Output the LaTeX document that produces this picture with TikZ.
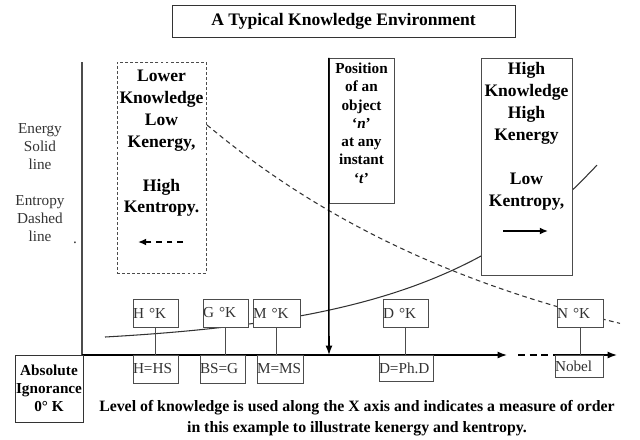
\documentclass[tikz,border=0pt]{standalone}
\usepackage{fontspec}
\setmainfont{Liberation Serif}
\usetikzlibrary{positioning,arrows.meta}

\begin{document}
\begin{tikzpicture}[x=0.03cm, y=-0.03cm,
  box/.style={draw=black!70, fill=white, inner sep=0pt},
  bigtext/.style={inner sep=0pt, align=center, font=\bfseries\fontsize{15}{18.7}\selectfont},
  smallbox/.style={box, text=black!80, align=left, inner xsep=0pt, font=\fontsize{13}{15}\selectfont},
  sidetext/.style={inner sep=0pt, align=center, text=black!80, font=\fontsize{13}{15.3}\selectfont},
  axisline/.style={line width=1.3pt},
  arrowed/.style={-{Latex[length=8pt,width=6pt]}},
  curveline/.style={black!80, line width=0.9pt}]
 \useasboundingbox (0,0) rectangle (640,439);

 %Coordinates
 \coordinate (origin) at (82,355);
 \coordinate (yTop) at (82,62);
 \coordinate (axisEnd) at (507,355);
 \coordinate (dashStart) at (518,355);
 \coordinate (dashEnd) at (556,355);
 \coordinate (axisTip) at (617,355);
 \coordinate (posTip) at (329,355);
 \coordinate (lowArrowStart) at (183,242);
 \coordinate (lowArrowEnd) at (138,242);
 \coordinate (highArrowStart) at (503,231);
 \coordinate (highArrowEnd) at (548,231);

 %Functions
 \draw[curveline, domain=105:597, smooth, variable=\x] plot ({\x}, {346.5-9.49*exp(0.006*(\x-105))});
 \draw[curveline, dash pattern=on 4pt off 3pt, domain=207:620, smooth, variable=\x] plot ({\x}, {404-279*exp(-0.003*(\x-207))});

 %Axis
 \draw[black!70, line width=1pt] (yTop) -- (origin);
 \draw[axisline, arrowed] (origin) -- (axisEnd);
 \draw[axisline, dash pattern=on 6pt off 4pt] (dashStart) -- (dashEnd);
 \draw[axisline, arrowed] (dashEnd) -- (axisTip);

 %Names
 \node (title) [box, draw=black!80, minimum width=10.29cm, minimum height=0.96cm, font=\bfseries\fontsize{15}{18}\selectfont] at (343.5,21) {A Typical Knowledge Environment};

 \node (lowBox) [box, dash pattern=on 2.5pt off 1.8pt, minimum width=2.67cm, minimum height=6.33cm] at (161.5,167.5) {};
 \node (lowText) [bigtext, below=0.24cm of lowBox.north] {Lower\\Knowledge\\Low\\Kenergy,\\[18.7pt]High\\Kentropy.};

 \node (highBox) [box, minimum width=2.73cm, minimum height=6.51cm] at (526.5,166.5) {};
 \node (highText) [bigtext, below=0.14cm of highBox.north] {High\\Knowledge\\High\\Kenergy\\[18.7pt]Low\\Kentropy,};

 \node (posBox) [box, minimum width=1.95cm, minimum height=4.35cm] at (361.5,130.5) {};
 \node (posText) [inner sep=0pt, align=center, font=\bfseries\fontsize{13}{15.6}\selectfont, below=0.15cm of posBox.north] {Position\\of an\\object\\‘\textit{n}’\\at any\\instant\\‘\textit{t}’};

 \node (energyName) [sidetext, anchor=north] at (40,123) {Energy\\Solid\\line};
 \node (entropyName) [sidetext, anchor=north] at (40,195) {Entropy\\Dashed\\line};
 \node (dotName) [sidetext, anchor=base] at (75,243) {.};

 \node (ignorance) [box, draw=black!80, minimum width=2.04cm, minimum height=2.01cm, align=center, font=\bfseries\fontsize{13}{15.3}\selectfont] at (49,388.5) {Absolute\\Ignorance\\0° K};

 \node (hTop) [smallbox, text width=1.35cm, minimum height=0.84cm] at (155.5,313) {H °K};
 \node (gTop) [smallbox, text width=1.35cm, minimum height=0.84cm] at (225.5,313) {G °K};
 \node (mTop) [smallbox, text width=1.41cm, minimum height=0.84cm] at (276.5,313) {M °K};
 \node (dTop) [smallbox, text width=1.35cm, minimum height=0.84cm] at (405.5,313) {D °K};
 \node (nTop) [smallbox, text width=1.38cm, minimum height=0.84cm] at (580,313) {N °K};

 \node (hBot) [smallbox, text width=1.35cm, minimum height=0.84cm] at (155.5,369) {H=HS};
 \node (bBot) [smallbox, text width=1.35cm, minimum height=0.84cm] at (222.5,369) {BS=G};
 \node (mBot) [smallbox, text width=1.38cm, minimum height=0.84cm] at (280,369) {M=MS};
 \node (dBot) [smallbox, text width=1.62cm, minimum height=0.78cm] at (406,368) {D=Ph.D};
 \node (nBot) [smallbox, text width=1.44cm, minimum height=0.66cm] at (579,366) {Nobel};

 \node (caption) [inner sep=0pt, align=center, anchor=north, font=\bfseries\fontsize{13.5}{18}\selectfont] at (357,400) {Level of knowledge is used along the X axis and indicates a measure of order\\in this example to illustrate kenergy and kentropy.};

 %Labels of functions
 \foreach \k/\b in {hTop/hBot, gTop/bBot, mTop/mBot, dTop/dBot, nTop/nBot}
 \draw[black!70, line width=0.8pt] (\k) -- (\k |- \b.north);

 \draw[line width=1.5pt, dash pattern=on 5pt off 4pt, -{Latex[length=7pt,width=6pt]}] (lowArrowStart) -- (lowArrowEnd);
 \draw[line width=1.5pt, -{Latex[length=7pt,width=6pt]}] (highArrowStart) -- (highArrowEnd);
 \draw[axisline, arrowed] (posBox.north west) -- (posTip);

\end{tikzpicture}
\end{document}
